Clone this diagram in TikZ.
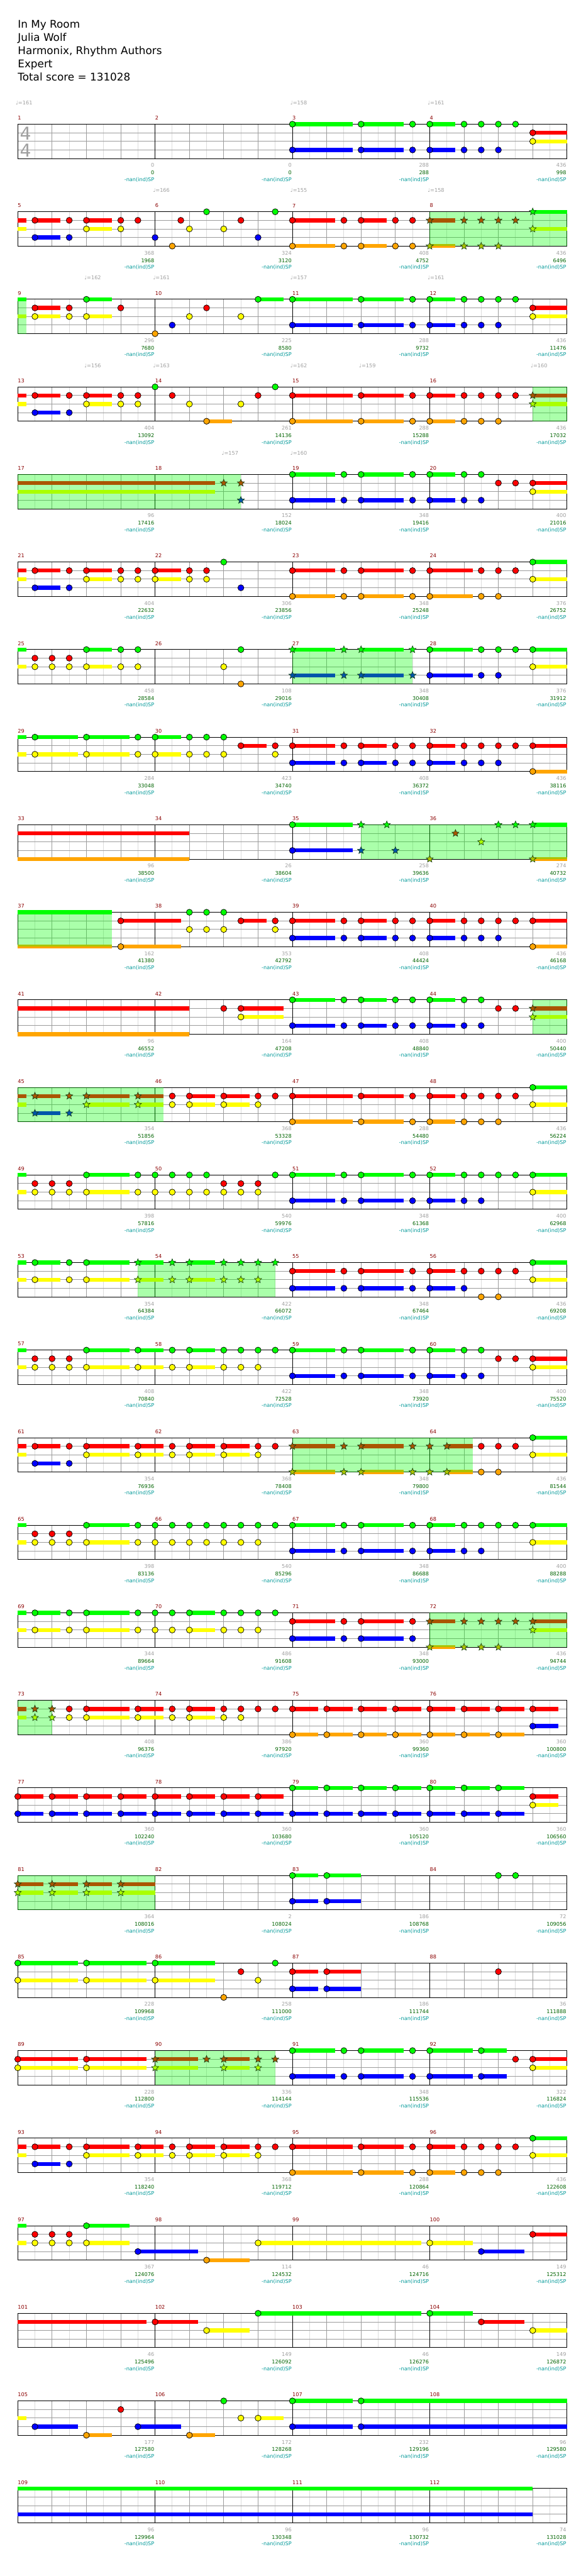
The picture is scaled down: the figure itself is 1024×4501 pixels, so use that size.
\documentclass[tikz,border=0pt]{standalone}
\usepackage{fontspec}
\setmainfont{DejaVu Sans}
\usetikzlibrary{shapes.geometric}
\definecolor{cG}{HTML}{00FF00}
\definecolor{cR}{HTML}{FF0000}
\definecolor{cY}{HTML}{FFFF00}
\definecolor{cB}{HTML}{0000FF}
\definecolor{cO}{HTML}{FFA500}
\definecolor{sG}{HTML}{00FF00}
\definecolor{sR}{HTML}{AA5500}
\definecolor{sY}{HTML}{AAFF00}
\definecolor{sB}{HTML}{0055AA}
\definecolor{sO}{HTML}{AAC300}
\definecolor{lgray}{HTML}{DCDCDC}
\definecolor{mgray}{HTML}{9C9C9C}
\definecolor{lblgray}{HTML}{A0A0A0}
\definecolor{lblgreen}{HTML}{006400}
\definecolor{lblteal}{HTML}{009999}
\definecolor{mnumc}{HTML}{8B0000}
\definecolor{starline}{HTML}{143C14}
\newcounter{stc}\newcounter{lc}
\def\yG{0}\def\yR{1}\def\yY{2}\def\yB{3}\def\yO{4}
\tikzset{
  smallfont/.style={font=\fontsize{9}{10}\selectfont},
  starnote/.style={star, star points=5, star point ratio=2.25, minimum size=13pt, inner sep=0pt, draw=starline, line width=0.7pt},
  mnum/.style={smallfont, anchor=west, inner sep=0pt, text=mnumc},
  glbl/.style={smallfont, anchor=east, inner sep=0pt, text=lblgray},
  slbl/.style={smallfont, anchor=east, inner sep=0pt, text=lblgreen},
  nlbl/.style={smallfont, anchor=east, inner sep=0pt, text=lblteal},
  tempo/.style={smallfont, anchor=west, inner sep=0pt, text=lblgray},
  lgrid/.style={draw=lgray, line width=1pt},
  mgrid/.style={draw=mgray, line width=1pt},
  bline/.style={draw=black, line width=1pt},
  titletext/.style={anchor=base west, inner sep=0pt, font=\fontsize{18.5}{22}\selectfont},
  tsig/.style={inner sep=0pt, text=lblgray, font=\fontsize{31}{31}\selectfont},
  rowsc/.style={x=30pt, y=-15pt}
}
\newcommand\Staff[1]{%
  \foreach \i in {1,3,...,31} {\draw[lgrid] (\i,0) -- (\i,4);}
  \foreach \i in {2,4,6,10,12,14,18,20,22,26,28,30} {\draw[mgrid] (\i,0) -- (\i,4);}
  \foreach \j in {1,2,3} {\draw[mgrid] (0,\j) -- (32,\j);}
  \foreach \i in {8,16,24} {\draw[bline] (\i,0) -- (\i,4);}
  \draw[bline] (0,0) rectangle (32,4);
  \foreach \i in {0,1,2,3} {\pgfmathtruncatemacro\mn{#1+\i}\node[mnum] (mn\mn) at (8*\i,-0.71) {\mn};}
}
\newcommand\Lbls[2]{%
  \foreach \g/\s [count=\i from 0] in {#2} {%
    \pgfmathtruncatemacro\mn{#1+\i}%
    \node[glbl] (gs\mn) at (8*\i+7.96,4.8) {\g};
    \node[slbl] (sc\mn) at (8*\i+7.96,5.667) {\s};
    \node[nlbl] (sp\mn) at (8*\i+7.96,6.47) {-nan(ind)SP};
  }}
\newcommand\Ss[2]{\edef\ly{\csname y#1\endcsname}\foreach \a/\b in {#2} {\draw[cG, draw=c#1, line width=7pt] (\a,\ly) -- (\b,\ly);}}
\newcommand\Ns[2]{\edef\ly{\csname y#1\endcsname}\foreach \xx in {#2} {\filldraw[fill=c#1, draw=black, line width=0.8pt] (\xx,\ly) circle[radius=5.3pt];}}
\newcommand\Rs[2]{\edef\ly{\csname y#1\endcsname}\foreach \xx in {#2} {\stepcounter{stc}\node[starnote, fill=s#1] (st\arabic{stc}) at (\xx,\ly) {};}}
\newcommand\SP[2]{\fill[cG, fill opacity=0.333] (#1,0) rectangle (#2,4);}
\newcommand\Tp[2]{\stepcounter{lc}\node[tempo] (tp\arabic{lc}) at (#1-0.12,-2.49) {♩=#2};}
\begin{document}
\begin{tikzpicture}
\fill[white] (0,0) rectangle (1024pt,-4501pt);
\useasboundingbox (0,0) rectangle (1024pt,-4501pt);
\node[titletext] (title1) at (31pt,-49.3pt) {In My Room};
\node[titletext] (title2) at (31pt,-72.3pt) {Julia Wolf};
\node[titletext] (title3) at (31pt,-95.3pt) {Harmonix, Rhythm Authors};
\node[titletext] (title4) at (31pt,-118.3pt) {Expert};
\node[titletext] (title5) at (31pt,-141.3pt) {Total score = 131028};

% Row 1
\begin{scope}[shift={(31pt,-217pt)},rowsc]
\Staff{1}
\node[tsig] (ts1) at (0.45,1.1) {4};
\node[tsig] (ts2) at (0.45,3.07) {4};
\Tp{0}{161}\Tp{16}{158}\Tp{24}{161}
\Ss{G}{16/19.5,20/22.5,24/25.5}
\Ss{B}{16/19.5,20/22.5,24/25.5}
\Ss{R}{30/32}\Ss{Y}{30/32}
\Ns{G}{16,20,23,24,26,27,28,29}
\Ns{B}{16,20,23,24,26,27,28}
\Ns{R}{30}\Ns{Y}{30}
\Lbls{1}{0/0,0/0,288/288,436/998}
\end{scope}

% Row 2
\begin{scope}[shift={(31pt,-370pt)},rowsc]
\Staff{5}
\Tp{8}{166}\Tp{16}{155}\Tp{24}{158}
\Ss{R}{0/0.5,1/2.5,4/5.5,16/18.5,20/21.5,24/25.5}
\Ss{Y}{0/0.5,4/5.5,30/32}
\Ss{B}{1/2.5}
\Ss{G}{30/32}
\Ss{O}{16/18.5,20/21.5,24/25.5}
\Ns{R}{1,3,4,6,7,9.5,13,16,19,20,22,23}
\Ns{Y}{4,6,10,12}
\Ns{B}{1,3,8,14}
\Ns{G}{11,15}
\Ns{O}{9,16,19,20,22,23}
\SP{24}{32}
\Rs{R}{24,26,27,28,29}\Rs{O}{24,26,27,28}\Rs{G}{30}\Rs{Y}{30}
\Lbls{5}{368/1968,324/3120,408/4752,436/6496}
\end{scope}

% Row 3
\begin{scope}[shift={(31pt,-523pt)},rowsc]
\Staff{9}
\Tp{4}{162}\Tp{8}{161}\Tp{16}{157}\Tp{24}{161}
\Ss{G}{0/0.5,4/5.5,14/15.5,16/19.5,20/22.5,24/25.5}
\Ss{Y}{0/0.5,1/2.5,4/5.5,30/32}
\Ss{R}{1/2.5,30/32}
\Ss{B}{16/19.5,20/22.5,24/25.5}
\Ns{R}{1,3,6,11,30}
\Ns{Y}{1,3,4,10,13,30}
\Ns{G}{4,14,16,20,23,24,26,27,28,29}
\Ns{B}{9,16,20,23,24,26,27,28}
\Ns{O}{8}
\SP{0}{0.5}
\Lbls{9}{296/7680,225/8580,288/9732,436/11476}
\end{scope}

% Row 4
\begin{scope}[shift={(31pt,-676pt)},rowsc]
\Staff{13}
\Tp{4}{156}\Tp{8}{163}\Tp{16}{162}\Tp{20}{159}\Tp{30}{160}
\Ss{R}{0/0.5,1/2.5,4/5.5,16/19.5,20/22.5,24/25.5,30/32}
\Ss{Y}{0/0.5,4/5.5,30/32}
\Ss{B}{1/2.5}
\Ss{O}{11/12.5,16/19.5,20/22.5,24/25.5}
\Ns{R}{1,3,4,6,7,9,14,16,20,23,24,26,27,28,29}
\Ns{Y}{4,6,7,10,13}
\Ns{B}{1,3}
\Ns{G}{8,15}
\Ns{O}{11,16,20,23,24,26,27,28}
\SP{30}{32}
\Rs{R}{30}\Rs{Y}{30}
\Lbls{13}{404/13092,261/14136,288/15288,436/17032}
\end{scope}

% Row 5
\begin{scope}[shift={(31pt,-829pt)},rowsc]
\Staff{17}
\Tp{12}{157}\Tp{16}{160}
\Ss{R}{0/11.5,30/32}\Ss{Y}{0/11.5,30/32}
\Ss{G}{16/18.5,20/22.5,24/25.5}
\Ss{B}{16/18.5,20/22.5,24/25.5}
\Ns{G}{16,19,20,23,24,26,27}
\Ns{B}{16,19,20,23,24,26,27}
\Ns{R}{28,29,30}
\Ns{Y}{30}
\SP{0}{13}
\Rs{R}{12,13}\Rs{B}{13}
\Lbls{17}{96/17416,152/18024,348/19416,400/21016}
\end{scope}

% Row 6
\begin{scope}[shift={(31pt,-982pt)},rowsc]
\Staff{21}
\Ss{R}{0/0.5,1/2.5,4/5.5,8/9.5,16/18.5,20/22.5,24/26.5}
\Ss{Y}{0/0.5,4/5.5,8/9.5,30/32}
\Ss{B}{1/2.5}
\Ss{G}{30/32}
\Ss{O}{16/18.5,20/22.5,24/26.5}
\Ns{R}{1,3,4,6,7,8,10,11,16,19,20,23,24,27,28,29}
\Ns{Y}{4,6,7,8,10,11,30}
\Ns{B}{1,3,13}
\Ns{G}{12,30}
\Ns{O}{16,19,20,23,24,27,28}
\Lbls{21}{404/22632,306/23856,348/25248,376/26752}
\end{scope}

% Row 7
\begin{scope}[shift={(31pt,-1135pt)},rowsc]
\Staff{25}
\Ss{G}{0/0.5,4/5.5,16/18.5,20/22.5,24/26.5,30/32}
\Ss{Y}{0/0.5,4/5.5,30/32}
\Ss{B}{16/18.5,20/22.5,24/26.5}
\Ns{R}{1,2,3}
\Ns{Y}{1,2,3,4,6,7,12,30}
\Ns{G}{4,6,7,13,24,27,28,29,30}
\Ns{O}{13}
\Ns{B}{24,27,28}
\SP{16}{23}
\Rs{G}{16,19,20,23}\Rs{B}{16,19,20,23}
\Lbls{25}{458/28584,108/29016,348/30408,376/31912}
\end{scope}

% Row 8
\begin{scope}[shift={(31pt,-1288pt)},rowsc]
\Staff{29}
\Ss{G}{0/0.5,1/3.5,4/6.5,8/9.5}
\Ss{Y}{0/0.5,1/3.5,4/6.5,8/9.5}
\Ss{R}{13/14.5,16/18.5,20/21.5,24/25.5,30/32}
\Ss{B}{16/18.5,20/21.5,24/25.5}
\Ss{O}{30/32}
\Ns{G}{1,4,7,8,10,11,12}
\Ns{Y}{1,4,7,8,10,11,12,15}
\Ns{R}{13,15,16,19,20,22,23,24,26,27,28,29,30}
\Ns{B}{16,19,20,22,23,24,26,27,28}
\Ns{O}{30}
\Lbls{29}{284/33048,423/34740,408/36372,436/38116}
\end{scope}

% Row 9
\begin{scope}[shift={(31pt,-1441pt)},rowsc]
\Staff{33}
\Ss{R}{0/10}\Ss{O}{0/10,30/32}
\Ss{G}{16/19.5,30/32}
\Ss{B}{16/19.5}
\Ns{G}{16}\Ns{B}{16}
\SP{20}{32}
\Rs{G}{20,21.5,28,29,30}\Rs{B}{20,22}\Rs{R}{25.5}\Rs{Y}{27}\Rs{O}{24,30}
\Lbls{33}{96/38500,26/38604,258/39636,274/40732}
\end{scope}

% Row 10
\begin{scope}[shift={(31pt,-1594pt)},rowsc]
\Staff{37}
\Ss{G}{0/5.5}\Ss{O}{0/5.5,6/9.5,30/32}
\Ss{R}{6/9.5,13/14.5,16/18.5,20/21.5,24/25.5,30/32}
\Ss{B}{16/18.5,20/21.5,24/25.5}
\Ns{R}{6,13,15,16,19,20,22,23,24,26,27,28,29,30}
\Ns{O}{6,30}
\Ns{G}{10,11,12}
\Ns{Y}{10,11,12,15}
\Ns{B}{16,19,20,22,23,24,26,27,28}
\SP{0}{5.5}
\Lbls{37}{162/41380,353/42792,408/44424,436/46168}
\end{scope}

% Row 11
\begin{scope}[shift={(31pt,-1747pt)},rowsc]
\Staff{41}
\Ss{R}{0/10,13/15.5,30/32}\Ss{O}{0/10}
\Ss{Y}{13/15.5,30/32}
\Ss{G}{16/18.5,20/21.5,24/25.5}
\Ss{B}{16/18.5,20/21.5,24/25.5}
\Ns{R}{12,13,28,29}
\Ns{Y}{13}
\Ns{G}{16,19,20,22,23,24,26,27}
\Ns{B}{16,19,20,22,23,24,26,27}
\SP{30}{32}
\Rs{R}{30}\Rs{Y}{30}
\Lbls{41}{96/46552,164/47208,408/48840,400/50440}
\end{scope}

% Row 12
\begin{scope}[shift={(31pt,-1900pt)},rowsc]
\Staff{45}
\Ss{R}{0/0.5,1/2.5,4/6.5,7/8.5,10/11.5,12/13.5,16/19.5,20/22.5,24/25.5}
\Ss{Y}{0/0.5,4/6.5,7/8.5,10/11.5,12/13.5,30/32}
\Ss{B}{1/2.5}
\Ss{G}{30/32}
\Ss{O}{16/19.5,20/22.5,24/25.5}
\Ns{R}{9,10,12,14,15,16,20,23,24,26,27,28,29}
\Ns{Y}{9,10,12,14,30}
\Ns{G}{30}
\Ns{O}{16,20,23,24,26,27,28}
\SP{0}{8.5}
\Rs{R}{1,3,4,7}\Rs{Y}{4,7}\Rs{B}{1,3}
\Lbls{45}{354/51856,368/53328,288/54480,436/56224}
\end{scope}

% Row 13
\begin{scope}[shift={(31pt,-2053pt)},rowsc]
\Staff{49}
\Ss{G}{0/0.5,4/6.5,16/18.5,20/22.5,24/25.5,30/32}
\Ss{Y}{0/0.5,4/6.5,30/32}
\Ss{B}{16/18.5,20/22.5,24/25.5}
\Ns{R}{1,2,3,12,13,14}
\Ns{Y}{1,2,3,4,7,8,9,10,11,12,13,14,30}
\Ns{G}{4,7,8,9,10,11,15,16,19,20,23,24,26,27,28,29,30}
\Ns{B}{16,19,20,23,24,26,27}
\Lbls{49}{398/57816,540/59976,348/61368,400/62968}
\end{scope}

% Row 14
\begin{scope}[shift={(31pt,-2206pt)},rowsc]
\Staff{53}
\Ss{G}{0/0.5,1/2.5,4/6.5,7/8.5,10/11.5,30/32}
\Ss{Y}{0/0.5,1/2.5,4/6.5,7/8.5,10/11.5,30/32}
\Ss{R}{16/18.5,20/22.5,24/25.5}
\Ss{B}{16/18.5,20/22.5,24/25.5}
\Ns{G}{1,3,4,30}
\Ns{Y}{1,3,4,30}
\Ns{R}{16,19,20,23,24,26,27,28,29}
\Ns{B}{16,19,20,23,24,26}
\Ns{O}{27,28}
\SP{7}{15}
\Rs{G}{7,9,10,12,13,14,15}\Rs{Y}{7,9,10,12,13,14}
\Lbls{53}{354/64384,422/66072,348/67464,436/69208}
\end{scope}

% Row 15
\begin{scope}[shift={(31pt,-2359pt)},rowsc]
\Staff{57}
\Ss{G}{0/0.5,4/6.5,7/8.5,10/11.5,16/18.5,20/22.5,24/25.5}
\Ss{Y}{0/0.5,4/6.5,7/8.5,10/11.5,30/32}
\Ss{R}{30/32}
\Ss{B}{16/18.5,20/22.5,24/25.5}
\Ns{R}{1,2,3,28,29,30}
\Ns{Y}{1,2,3,4,7,9,10,12,13,14,30}
\Ns{G}{4,7,9,10,12,13,14,15,16,19,20,23,24,26,27}
\Ns{B}{16,19,20,23,24,26,27}
\Lbls{57}{408/70840,422/72528,348/73920,400/75520}
\end{scope}

% Row 16
\begin{scope}[shift={(31pt,-2512pt)},rowsc]
\Staff{61}
\Ss{R}{0/0.5,1/2.5,4/6.5,7/8.5,10/11.5,12/13.5,16/18.5,20/22.5,25/26.5}
\Ss{Y}{0/0.5,4/6.5,7/8.5,10/11.5,12/13.5,30/32}
\Ss{B}{1/2.5}
\Ss{O}{16/18.5,20/22.5,25/26.5}
\Ss{G}{30/32}
\Ns{R}{1,3,4,7,9,10,12,14,15,27,28,29}
\Ns{Y}{4,7,9,10,12,14,30}
\Ns{B}{1,3}
\Ns{O}{27,28}
\Ns{G}{30}
\SP{16}{26.5}
\Rs{R}{16,19,20,23,24,25}\Rs{O}{16,19,20,23,24,25}
\Lbls{61}{354/76936,368/78408,348/79800,436/81544}
\end{scope}

% Row 17
\begin{scope}[shift={(31pt,-2665pt)},rowsc]
\Staff{65}
\Ss{G}{0/0.5,4/6.5,16/18.5,20/22.5,24/25.5,30/32}
\Ss{Y}{0/0.5,4/6.5,30/32}
\Ss{B}{16/18.5,20/22.5,24/25.5}
\Ns{R}{1,2,3}
\Ns{Y}{1,2,3,4,7,8,9,10,11,12,13,14,30}
\Ns{G}{4,7,8,9,10,11,12,13,14,15,16,19,20,23,24,26,27,28,29,30}
\Ns{B}{16,19,20,23,24,26,27}
\Lbls{65}{398/83136,540/85296,348/86688,400/88288}
\end{scope}

% Row 18
\begin{scope}[shift={(31pt,-2818pt)},rowsc]
\Staff{69}
\Ss{G}{0/0.5,1/2.5,4/6.5,10/11.5}
\Ss{Y}{0/0.5,1/2.5,4/6.5,10/11.5,30/32}
\Ss{R}{16/18.5,20/22.5,24/25.5,30/32}
\Ss{B}{16/18.5,20/22.5}
\Ss{O}{24/25.5}
\Ns{G}{1,3,4,7,8,9,10,12,13,14,15}
\Ns{Y}{1,3,4,7,8,9,10,12,13,14}
\Ns{R}{16,19,20,23}
\Ns{B}{16,19,20,23}
\SP{24}{32}
\Rs{R}{24,26,27,28,29,30}\Rs{O}{24,26,27,28}\Rs{Y}{30}
\Lbls{69}{344/89664,486/91608,348/93000,436/94744}
\end{scope}

% Row 19
\begin{scope}[shift={(31pt,-2971pt)},rowsc]
\Staff{73}
\Ss{R}{0/0.5,4/6.5,7/8.5,10/11.5,16/17.5,18/19.5,20/21.5,22/23.5,24/25.5,26/27.5,28/29.5,30/31.5}
\Ss{Y}{0/0.5,4/6.5,7/8.5,10/11.5}
\Ss{O}{16/17.5,18/19.5,20/21.5,22/23.5,24/25.5,26/27.5,28/29.5}
\Ss{B}{30/31.5}
\Ns{R}{3,4,7,9,10,12,13,14,15,16,18,20,22,24,26,28,30}
\Ns{Y}{3,4,7,9,10,12,13}
\Ns{O}{16,18,20,22,24,26,28}
\Ns{B}{30}
\SP{0}{2}
\Rs{R}{1,2}\Rs{Y}{1,2}
\Lbls{73}{408/96376,386/97920,360/99360,360/100800}
\end{scope}

% Row 20
\begin{scope}[shift={(31pt,-3124pt)},rowsc]
\Staff{77}
\Ss{R}{0/1.5,2/3.5,4/5.5,6/7.5,8/9.5,10/11.5,12/13.5,14/15.5,30/31.5}
\Ss{B}{0/1.5,2/3.5,4/5.5,6/7.5,8/9.5,10/11.5,12/13.5,14/15.5,16/17.5,18/19.5,20/21.5,22/23.5,24/25.5,26/27.5,28/29.5}
\Ss{G}{16/17.5,18/19.5,20/21.5,22/23.5,24/25.5,26/27.5,28/29.5}
\Ss{Y}{30/31.5}
\Ns{R}{0,2,4,6,8,10,12,14,30}
\Ns{B}{0,2,4,6,8,10,12,14,16,18,20,22,24,26,28}
\Ns{G}{16,18,20,22,24,26,28}
\Ns{Y}{30}
\Lbls{77}{360/102240,360/103680,360/105120,360/106560}
\end{scope}

% Row 21
\begin{scope}[shift={(31pt,-3277pt)},rowsc]
\Staff{81}
\Ss{R}{0/1.5,2/3.5,4/5.5,6/8}\Ss{Y}{0/1.5,2/3.5,4/5.5,6/8}
\Ss{G}{16/17.5,18/20}\Ss{B}{16/17.5,18/20}
\Ns{G}{16,18,28,29}\Ns{B}{16,18}
\SP{0}{8}
\Rs{R}{0,2,4,6}\Rs{Y}{0,2,4,6}
\Lbls{81}{364/108016,2/108024,186/108768,72/109056}
\end{scope}

% Row 22
\begin{scope}[shift={(31pt,-3430pt)},rowsc]
\Staff{85}
\Ss{G}{0/3.5,4/7.5,8/11.5}\Ss{Y}{0/3.5,4/7.5,8/11.5}
\Ss{R}{16/17.5,18/20}\Ss{B}{16/17.5,18/20}
\Ns{G}{0,4,8,15}\Ns{Y}{0,4,8,14}
\Ns{R}{13,16,18,28}\Ns{O}{12}\Ns{B}{16,18}
\Lbls{85}{228/109968,258/111000,186/111744,36/111888}
\end{scope}

% Row 23
\begin{scope}[shift={(31pt,-3583pt)},rowsc]
\Staff{89}
\Ss{R}{0/3.5,4/7.5,8/10.5,12/13.5,30/32}\Ss{Y}{0/3.5,4/7.5,8/10.5,12/13.5,30/32}
\Ss{G}{16/18.5,20/22.5,24/26.5,27/28.5}\Ss{B}{16/18.5,20/22.5,24/26.5,27/28.5}
\Ns{R}{0,4,29,30}\Ns{Y}{0,4,30}
\Ns{G}{16,19,20,23,24,27}\Ns{B}{16,19,20,23,24,27}
\SP{8}{15}
\Rs{R}{8,11,12,14,15}\Rs{Y}{8,12,14}
\Lbls{89}{228/112800,336/114144,348/115536,322/116824}
\end{scope}

% Row 24
\begin{scope}[shift={(31pt,-3736pt)},rowsc]
\Staff{93}
\Ss{R}{0/0.5,1/2.5,4/6.5,7/8.5,10/11.5,12/13.5,16/19.5,20/22.5,24/25.5}
\Ss{Y}{0/0.5,4/6.5,7/8.5,10/11.5,12/13.5,30/32}
\Ss{B}{1/2.5}
\Ss{O}{16/19.5,20/22.5,24/25.5}
\Ss{G}{30/32}
\Ns{R}{1,3,4,7,9,10,12,14,15,16,20,23,24,26,27,28,29}
\Ns{Y}{4,7,9,10,12,14,30}
\Ns{B}{1,3}
\Ns{O}{16,20,23,24,26,27,28}
\Ns{G}{30}
\Lbls{93}{354/118240,368/119712,288/120864,436/122608}
\end{scope}

% Row 25
\begin{scope}[shift={(31pt,-3889pt)},rowsc]
\Staff{97}
\Ss{G}{0/0.5,4/6.5}\Ss{Y}{0/0.5,4/6.5,14/23.5,24/26.5}
\Ss{B}{7/10.5,27/29.5}\Ss{O}{11/13.5}\Ss{R}{30/32}
\Ns{R}{1,2,3,30}\Ns{Y}{1,2,3,4,14,24}\Ns{G}{4}\Ns{B}{7,27}\Ns{O}{11}
\Lbls{97}{367/124076,114/124532,46/124716,149/125312}
\end{scope}

% Row 26
\begin{scope}[shift={(31pt,-4042pt)},rowsc]
\Staff{101}
\Ss{R}{0/7.5,8/10.5,27/29.5}\Ss{Y}{11/13.5,30/32}\Ss{G}{14/23.5,24/26.5}
\Ns{R}{8,27}\Ns{Y}{11,30}\Ns{G}{14,24}
\Lbls{101}{46/125496,149/126092,46/126276,149/126872}
\end{scope}

% Row 27
\begin{scope}[shift={(31pt,-4195pt)},rowsc]
\Staff{105}
\Ss{Y}{0/0.5,14/15.5}\Ss{B}{1/3.5,7/9.5,16/19.5,20/32}\Ss{O}{4/5.5,10/11.5}\Ss{G}{16/19.5,20/32}
\Ns{B}{1,7,16,20}\Ns{O}{4,10}\Ns{R}{6}\Ns{G}{12,16,20}\Ns{Y}{13,14}
\Lbls{105}{177/127580,172/128268,232/129196,96/129580}
\end{scope}

% Row 28
\begin{scope}[shift={(31pt,-4348pt)},rowsc]
\Staff{109}
\Ss{G}{0/30}\Ss{B}{0/30}
\Lbls{109}{96/129964,96/130348,96/130732,74/131028}
\end{scope}
\end{tikzpicture}
\end{document}
